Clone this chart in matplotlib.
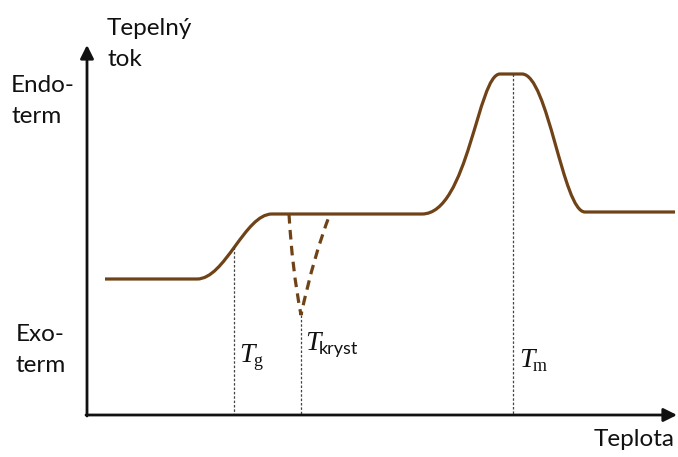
import matplotlib
matplotlib.use("Agg")
import matplotlib.pyplot as plt
from matplotlib.path import Path
from matplotlib.patches import PathPatch

# schematic DSC curve, picture units (x right, y down)
x_start, x_end = 105, 675
y_low = 279        # baseline before glass transition
y_mid = 214        # baseline after glass transition
y_peak = 74        # melting peak top
y_high = 212       # baseline after melting

tg_x = [197, 234, 272]            # start, T_g, end of the step
kryst_x = [289, 301, 330]         # crystallisation dip: left, bottom, right
kryst_y = 315
melt_x = [422, 500, 513, 522, 585]  # rise start, top start, T_m, top end, fall end

y_labels = ["Endo-\nterm", "Exo-\nterm"]
y_title = "Tepelný\ntok"
x_title = "Teplota"

brown = "#6f4317"
ink = "#111111"

fig = plt.figure(figsize=(6.78, 4.57), dpi=100)
ax = fig.add_axes([0, 0, 1, 1])
ax.set_xlim(0, 678)
ax.set_ylim(457, 0)
ax.axis("off")

# main curve
verts = [(x_start, y_low), (tg_x[0], y_low),
         (tg_x[0] + 28, y_low), (tg_x[2] - 27, y_mid), (tg_x[2], y_mid),
         (melt_x[0], y_mid),
         (melt_x[0] + 46, y_mid), (melt_x[1] - 22, y_peak), (melt_x[1], y_peak),
         (melt_x[3], y_peak),
         (melt_x[3] + 26, y_peak), (melt_x[4] - 22, y_high), (melt_x[4], y_high),
         (x_end, y_high)]
codes = [Path.MOVETO, Path.LINETO,
         Path.CURVE4, Path.CURVE4, Path.CURVE4,
         Path.LINETO,
         Path.CURVE4, Path.CURVE4, Path.CURVE4,
         Path.LINETO,
         Path.CURVE4, Path.CURVE4, Path.CURVE4,
         Path.LINETO]
ax.add_patch(PathPatch(Path(verts, codes), fill=False, ec=brown, lw=2.3,
                       capstyle="butt", joinstyle="round"))

# crystallisation dip (dashed)
dverts = [(kryst_x[0], y_mid), (kryst_x[0] + 3, 268), (kryst_x[1], kryst_y),
          (kryst_x[1] + 13, 255), (kryst_x[2], y_mid)]
dcodes = [Path.MOVETO, Path.CURVE3, Path.CURVE3, Path.CURVE3, Path.CURVE3]
ax.add_patch(PathPatch(Path(dverts, dcodes), fill=False, ec=brown, lw=2.3,
                       ls=(0, (3, 2))))

# guide lines
guide = dict(color="#444444", lw=0.9, ls=(0, (2, 1.5)))
ax.plot([tg_x[1], tg_x[1]], [247, 415], **guide)
ax.plot([kryst_x[1], kryst_x[1]], [kryst_y, 415], **guide)
ax.plot([melt_x[2], melt_x[2]], [y_peak, 415], **guide)

# axes arrows
ax.annotate("", xy=(87, 45), xytext=(87, 416),
            arrowprops=dict(arrowstyle="-|>", lw=2, color=ink, mutation_scale=20,
                            shrinkA=0, shrinkB=0))
ax.annotate("", xy=(677, 415), xytext=(86, 415),
            arrowprops=dict(arrowstyle="-|>", lw=2, color=ink, mutation_scale=20,
                            shrinkA=0, shrinkB=0))

font = "Lato"
fs = 17.5
ax.text(107, 44, y_title, fontsize=fs, family=font, va="center", ha="left",
        linespacing=1.55, color=ink)
ax.text(11, 101, y_labels[0], fontsize=fs, family=font, va="center", ha="left",
        linespacing=1.55, color=ink)
ax.text(16, 350, y_labels[1], fontsize=fs, family=font, va="center", ha="left",
        linespacing=1.55, color=ink)
ax.text(675, 440, x_title, fontsize=fs, family=font, va="center", ha="right",
        color=ink)

# temperature markers: italic T with upright subscript
serif = "Liberation Serif"
ax.text(239, 362, "T", fontsize=20, family=serif, style="italic", va="baseline", color=ink)
ax.text(253, 366, "g", fontsize=13, family=serif, va="baseline", color=ink)
ax.text(305, 350, "T", fontsize=20, family=serif, style="italic", va="baseline", color=ink)
ax.text(319, 354, "kryst", fontsize=13, family=font, va="baseline", color=ink)
ax.text(519, 367, "T", fontsize=20, family=serif, style="italic", va="baseline", color=ink)
ax.text(533, 371, "m", fontsize=13, family=serif, va="baseline", color=ink)

fig.savefig("out.png", dpi=100)
